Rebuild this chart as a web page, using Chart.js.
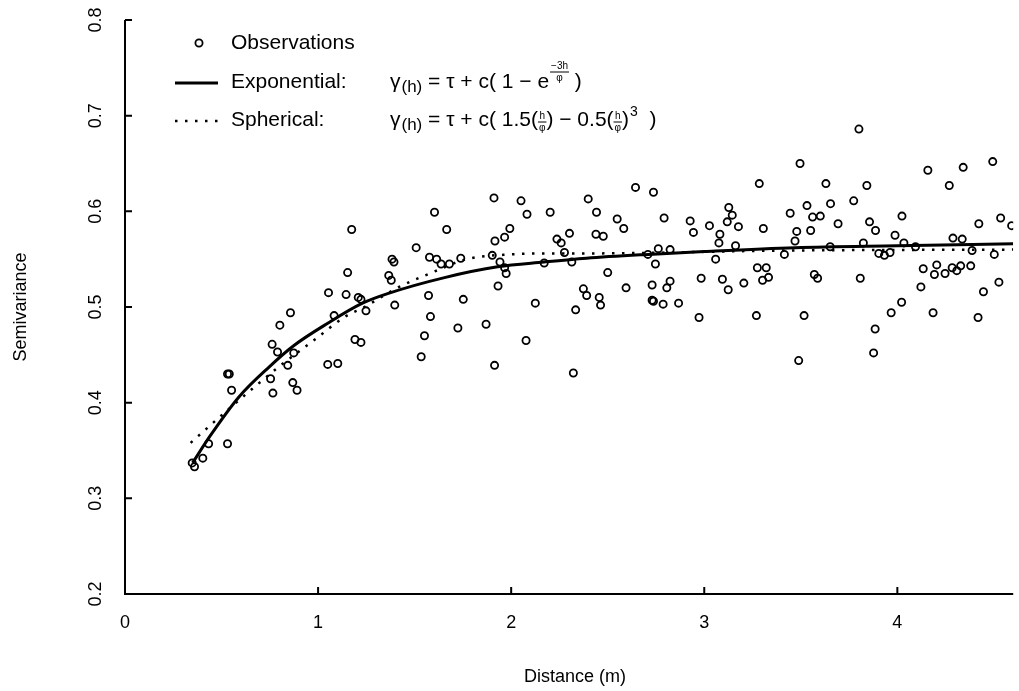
<!DOCTYPE html>
<html>
<head>
<meta charset="utf-8">
<script src="https://cdn.jsdelivr.net/npm/chart.js@4.4.0/dist/chart.umd.min.js"></script>
<style>
html, body { margin: 0; padding: 0; background: #fff; }
</style>
</head>
<body>
<canvas id="chart" width="1019" height="691"></canvas>
<script>
// Observed semivariance, distance in m
const obsDist = [
    1.153, 1.054, 1.145, 1.208, 1.222, 1.248, 0.857, 0.802, 1.083, 1.191,
    1.222, 0.762, 0.790, 0.874, 0.843, 1.050, 1.102, 0.531, 0.540, 0.754,
    0.869, 0.552, 0.766, 0.891, 0.531, 0.433, 0.403, 0.348, 0.360, 1.174,
    1.911, 2.051, 2.082, 2.202, 1.603, 1.666, 1.993, 1.966, 1.916, 2.302,
    2.237, 2.259, 2.276, 1.508, 1.383, 1.393, 1.577, 1.614, 1.637, 1.680,
    1.739, 1.902, 1.942, 1.966, 1.974, 2.171, 2.314, 1.366, 1.379, 1.932,
    1.397, 1.572, 1.752, 2.125, 2.334, 1.582, 1.551, 1.534, 1.724, 1.870,
    2.077, 1.914, 2.322,
    2.644, 2.737, 2.399, 2.442, 2.549, 2.583, 2.439, 2.477, 2.792, 3.285,
    3.127, 3.145, 3.119, 2.927, 2.944, 3.027, 3.177, 3.081, 3.076, 3.162,
    3.306, 2.762, 2.823, 2.708, 2.747, 3.059, 3.415, 2.500, 2.595, 2.374,
    2.391, 2.456, 2.463, 2.730, 2.823, 2.806, 2.730, 2.737, 2.787, 2.867,
    2.984, 3.094, 3.124, 3.205, 3.275, 3.321, 3.333, 3.302, 2.973, 3.270,
    3.801, 3.496, 3.630, 3.842, 3.532, 3.654, 3.774, 3.445, 3.561, 3.601,
    3.693, 3.479, 3.551, 3.470, 3.856, 3.887, 3.988, 4.024, 4.158, 4.341,
    4.494, 4.269, 4.422, 4.535, 4.592, 4.288, 4.336, 3.652, 3.824, 4.034,
    4.094, 3.904, 3.933, 3.962, 4.387, 4.502, 3.570, 3.587, 3.808, 4.134,
    4.204, 4.192, 4.247, 4.284, 4.308, 4.328, 4.380, 4.122, 4.446, 4.526,
    4.022, 3.517, 3.968, 4.185, 4.418, 3.885, 3.877, 3.489
];
const obsSemi = [
    0.536, 0.515, 0.513, 0.510, 0.508, 0.496, 0.494, 0.481, 0.491, 0.466,
    0.463, 0.461, 0.453, 0.452, 0.439, 0.440, 0.441, 0.430, 0.430, 0.425,
    0.421, 0.413, 0.410, 0.413, 0.357, 0.357, 0.342, 0.337, 0.333, 0.581,
    0.614, 0.611, 0.597, 0.599, 0.599, 0.581, 0.582, 0.573, 0.569, 0.577,
    0.571, 0.567, 0.557, 0.562, 0.550, 0.547, 0.552, 0.550, 0.545, 0.545,
    0.551, 0.554, 0.547, 0.541, 0.535, 0.546, 0.547, 0.533, 0.528, 0.522,
    0.502, 0.512, 0.508, 0.504, 0.497, 0.490, 0.470, 0.448, 0.478, 0.482,
    0.465, 0.439, 0.431,
    0.625, 0.620, 0.613, 0.599, 0.592, 0.582, 0.576, 0.574, 0.593, 0.629,
    0.604, 0.596, 0.589, 0.590, 0.578, 0.585, 0.584, 0.576, 0.567, 0.564,
    0.582, 0.561, 0.560, 0.555, 0.545, 0.550, 0.555, 0.536, 0.520, 0.519,
    0.512, 0.510, 0.502, 0.523, 0.527, 0.520, 0.507, 0.506, 0.503, 0.504,
    0.530, 0.529, 0.518, 0.525, 0.541, 0.541, 0.531, 0.528, 0.489, 0.491,
    0.686, 0.650, 0.629, 0.627, 0.606, 0.608, 0.611, 0.598, 0.594, 0.595,
    0.587, 0.579, 0.580, 0.569, 0.589, 0.580, 0.575, 0.595, 0.643, 0.646,
    0.652, 0.627, 0.587, 0.593, 0.585, 0.572, 0.571, 0.563, 0.567, 0.567,
    0.563, 0.556, 0.554, 0.557, 0.559, 0.555, 0.534, 0.530, 0.530, 0.540,
    0.544, 0.534, 0.535, 0.541, 0.538, 0.543, 0.543, 0.521, 0.516, 0.526,
    0.505, 0.491, 0.494, 0.494, 0.489, 0.477, 0.452, 0.444
];

// Fitted models
const expDist = [0.35, 0.44, 0.59, 0.75, 0.87, 1.05, 1.23, 1.36, 1.66, 1.93, 2.17, 2.39, 2.71, 3.0, 3.47, 4.0, 4.6];
const expSemi = [0.337, 0.365, 0.406, 0.438, 0.459, 0.483, 0.504, 0.514, 0.531, 0.542, 0.547, 0.551, 0.555, 0.558, 0.562, 0.564, 0.566];
const sphDist = [0.34, 0.49, 0.68, 0.80, 0.99, 1.14, 1.24, 1.41, 1.59, 1.77, 2.0, 2.2, 2.39, 3.42, 4.6];
const sphSemi = [0.358, 0.385, 0.418, 0.438, 0.467, 0.490, 0.500, 0.520, 0.536, 0.550, 0.555, 0.556, 0.556, 0.559, 0.560];

const xTicks = [0, 1, 2, 3, 4];
const xTickLabels = ["0", "1", "2", "3", "4"];
const yTicks = [0.2, 0.3, 0.4, 0.5, 0.6, 0.7, 0.8];
const yTickLabels = ["0.2", "0.3", "0.4", "0.5", "0.6", "0.7", "0.8"];

const FONT = '"Liberation Sans", Arial, Helvetica, sans-serif';
const font = px => px + "px " + FONT;

function toPoints(xs, ys) {
    return xs.map((d, i) => ({ x: d, y: ys[i] }));
}

// write a piece of text, return the x where the next piece starts
function put(ctx, text, x, y, px) {
    ctx.font = font(px);
    ctx.fillText(text, x, y);
    return x + ctx.measureText(text).width;
}

// small stacked fraction
function frac(ctx, top, bottom, x, yMid, px) {
    ctx.font = font(px);
    const w = Math.max(ctx.measureText(top).width, ctx.measureText(bottom).width) + 2;
    ctx.textAlign = "center";
    ctx.fillText(top, x + w / 2, yMid - px * 0.55);
    ctx.fillText(bottom, x + w / 2, yMid + px * 0.6);
    ctx.textAlign = "left";
    ctx.lineWidth = 1;
    ctx.beginPath();
    ctx.moveTo(x, yMid);
    ctx.lineTo(x + w, yMid);
    ctx.stroke();
    return x + w;
}

// R style axes: left + bottom line, inward ticks
const axesPlugin = {
    id: "rAxes",
    afterDraw(chart) {
        const { ctx, chartArea: a, scales } = chart;
        const xs = scales.x, ys = scales.y;
        ctx.save();
        ctx.strokeStyle = "#000";
        ctx.fillStyle = "#000";
        ctx.lineWidth = 2;
        ctx.beginPath();
        ctx.moveTo(a.left, ys.getPixelForValue(0.8));
        ctx.lineTo(a.left, a.bottom);
        ctx.lineTo(a.right, a.bottom);
        xTicks.forEach(v => {
            const px = xs.getPixelForValue(v);
            ctx.moveTo(px, a.bottom);
            ctx.lineTo(px, a.bottom - 7);
        });
        yTicks.forEach(v => {
            const py = ys.getPixelForValue(v);
            ctx.moveTo(a.left, py);
            ctx.lineTo(a.left + 7, py);
        });
        ctx.stroke();

        ctx.font = font(18);
        ctx.textAlign = "center";
        ctx.textBaseline = "middle";
        xTicks.forEach((v, i) => {
            ctx.fillText(xTickLabels[i], xs.getPixelForValue(v), 623);
        });
        yTicks.forEach((v, i) => {
            ctx.save();
            ctx.translate(96, ys.getPixelForValue(v));
            ctx.rotate(-Math.PI / 2);
            ctx.fillText(yTickLabels[i], 0, 0);
            ctx.restore();
        });

        ctx.fillText("Distance (m)", 575, 677);
        ctx.save();
        ctx.translate(21, 307);
        ctx.rotate(-Math.PI / 2);
        ctx.fillText("Semivariance", 0, 0);
        ctx.restore();
        ctx.restore();
    }
};

// legend with the model formulas
const legendPlugin = {
    id: "formulaLegend",
    afterDraw(chart) {
        const ctx = chart.ctx;
        ctx.save();
        ctx.fillStyle = "#000";
        ctx.strokeStyle = "#000";
        ctx.textBaseline = "middle";
        ctx.textAlign = "left";

        // symbols
        ctx.lineWidth = 1.8;
        ctx.beginPath();
        ctx.arc(199, 43, 3.6, 0, Math.PI * 2);
        ctx.stroke();
        ctx.lineWidth = 3;
        ctx.beginPath();
        ctx.moveTo(175, 83);
        ctx.lineTo(218, 83);
        ctx.stroke();
        ctx.lineWidth = 2.5;
        ctx.setLineDash([2.5, 7.5]);
        ctx.beginPath();
        ctx.moveTo(175, 121);
        ctx.lineTo(220, 121);
        ctx.stroke();
        ctx.setLineDash([]);

        put(ctx, "Observations", 231, 43, 21);
        put(ctx, "Exponential:", 231, 82, 21);
        put(ctx, "Spherical:", 231, 120, 21);

        let x = put(ctx, "\u03b3", 390, 82, 21);
        x = put(ctx, "(h)", x + 1, 87, 17);
        x = put(ctx, " = \u03c4 + c( 1 \u2212 e", x, 82, 21);
        x = frac(ctx, "\u22123h", "\u03c6", x + 1, 72, 10);
        put(ctx, " )", x, 82, 21);

        x = put(ctx, "\u03b3", 390, 120, 21);
        x = put(ctx, "(h)", x + 1, 125, 17);
        x = put(ctx, " = \u03c4 + c( 1.5(", x, 120, 21);
        x = frac(ctx, "h", "\u03c6", x, 122, 10);
        x = put(ctx, ") \u2212 0.5(", x, 120, 21);
        x = frac(ctx, "h", "\u03c6", x, 122, 10);
        x = put(ctx, ")", x, 120, 21);
        x = put(ctx, "3", x + 1, 112, 14);
        put(ctx, "  )", x, 120, 21);
        ctx.restore();
    }
};

const ctx = document.getElementById("chart").getContext("2d");
new Chart(ctx, {
    type: "scatter",
    data: {
        datasets: [
            {
                label: "Observations",
                data: toPoints(obsDist, obsSemi),
                pointStyle: "circle",
                pointRadius: 3.6,
                borderWidth: 1.8,
                borderColor: "#000",
                backgroundColor: "rgba(0,0,0,0)",
                showLine: false,
            },
            {
                label: "Exponential",
                data: toPoints(expDist, expSemi),
                showLine: true,
                pointRadius: 0,
                borderColor: "#000",
                borderWidth: 3,
                cubicInterpolationMode: "monotone",
                fill: false,
            },
            {
                label: "Spherical",
                data: toPoints(sphDist, sphSemi),
                showLine: true,
                pointRadius: 0,
                borderColor: "#000",
                borderWidth: 2.5,
                borderDash: [2.5, 7.5],
                cubicInterpolationMode: "monotone",
                fill: false,
            },
        ],
    },
    options: {
        responsive: false,
        animation: false,
        events: [],
        layout: { padding: { left: 125, right: 0, top: 20, bottom: 97 } },
        plugins: { legend: { display: false }, tooltip: { enabled: false } },
        scales: {
            x: { type: "linear", min: 0, max: 4.6, display: false },
            y: { type: "linear", min: 0.2, max: 0.8, display: false },
        },
    },
    plugins: [axesPlugin, legendPlugin],
});
</script>
</body>
</html>
